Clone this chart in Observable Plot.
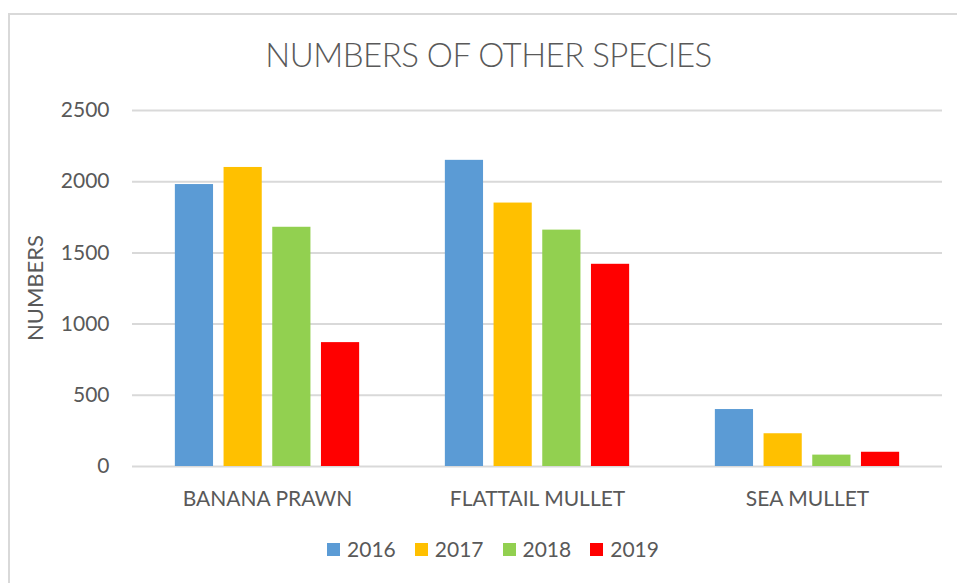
<!DOCTYPE html>
<html>
<head>
<meta charset="utf-8">
<script src="https://cdn.jsdelivr.net/npm/d3@7"></script>
<script src="https://cdn.jsdelivr.net/npm/@observablehq/plot@0.6"></script>
<style>
  html, body { margin: 0; padding: 0; background: #fff; }
  #chart {
    position: relative; width: 957px; height: 583px; overflow: hidden;
    font-family: Lato, "Open Sans", sans-serif; color: #595959;
  }
  #frame {
    position: absolute; left: 8px; top: 13px; width: 960px; height: 600px;
    border: 2px solid #d9d9d9; box-sizing: border-box;
  }
  #title {
    position: absolute; left: 0; top: 38px; width: 977px; text-align: center;
    font-size: 33px; font-weight: 300; letter-spacing: -0.5px; line-height: 1;
  }
  #ylabel {
    position: absolute; left: 35px; top: 288px; transform: translate(-50%, -50%) rotate(-90deg);
    font-size: 22px; white-space: nowrap; line-height: 1;
  }
  #plot { position: absolute; left: 0; top: 0; }
  #legend {
    position: absolute; left: 0; top: 538px; width: 986px; display: flex; justify-content: center;
    gap: 19px; font-size: 21px; line-height: 22px;
  }
  .item { display: flex; align-items: center; gap: 7px; }
  .sw { width: 13px; height: 13px; display: inline-block; }
</style>
</head>
<body>
<div id="chart">
  <div id="frame"></div>
  <div id="title">NUMBERS OF OTHER SPECIES</div>
  <div id="plot"></div>
  <div id="ylabel">NUMBERS</div>
  <div id="legend"></div>
</div>
<script>
// Species groups, years and counts per year
const species = ["BANANA PRAWN", "FLATTAIL MULLET", "SEA MULLET"];
const years = ["2016", "2017", "2018", "2019"];
const colors = ["#5b9bd5", "#ffc000", "#92d050", "#ff0000"];
const counts2016 = [1980, 2150, 400];
const counts2017 = [2100, 1850, 230];
const counts2018 = [1680, 1660, 80];
const counts2019 = [870, 1420, 100];
const yTicks = [0, 500, 1000, 1500, 2000, 2500];

const series = [counts2016, counts2017, counts2018, counts2019];
const rows = [];
species.forEach((s, i) => {
  years.forEach((y, j) => rows.push({species: s, year: y, value: series[j][i]}));
});

const plot = Plot.plot({
  width: 957,
  height: 583,
  marginTop: 110,
  marginBottom: 117,
  marginLeft: 131,
  marginRight: 15,
  style: {fontFamily: "Lato, 'Open Sans', sans-serif", fontSize: "21px", color: "#595959", background: "transparent"},
  fx: {domain: species, padding: 0, label: null, axis: "bottom", tickSize: 0, tickPadding: 25},
  x: {domain: years, paddingInner: 0.216, paddingOuter: 0.88, round: false, axis: null},
  y: {domain: [0, 2500], ticks: yTicks, tickFormat: d3.format("d"), label: null, tickSize: 0, tickPadding: 23},
  color: {domain: years, range: colors},
  marks: [
    Plot.gridY(yTicks, {stroke: "#d9d9d9", strokeOpacity: 1, strokeWidth: 2}),
    Plot.barY(rows, {fx: "species", x: "year", y: "value", fill: "year"})
  ]
});
document.getElementById("plot").appendChild(plot);

const legend = d3.select("#legend");
years.forEach((y, i) => {
  const item = legend.append("div").attr("class", "item");
  item.append("span").attr("class", "sw").style("background", colors[i]);
  item.append("span").text(y);
});
</script>
</body>
</html>
